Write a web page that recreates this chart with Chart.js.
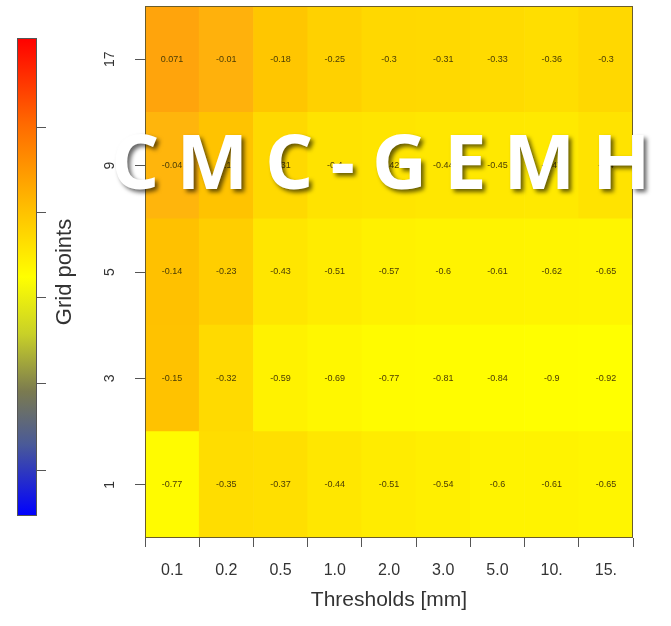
<!DOCTYPE html>
<html><head><meta charset="utf-8">
<script src="https://cdn.jsdelivr.net/npm/chart.js@4"></script>
<style>
html,body{margin:0;padding:0;background:#fff;overflow:hidden;}
#wrap{position:relative;width:671px;height:626px;overflow:hidden;}
#wm{position:absolute;left:111px;top:122px;font:bold 76px "Open Sans";line-height:76px;letter-spacing:17px;color:#fff;white-space:nowrap;text-shadow:3px 3px 4px rgba(0,0,0,0.6);pointer-events:none;}
</style></head><body>
<div id="wrap"><canvas id="c" width="671" height="626"></canvas><div id="wm">CMC-GEMH</div></div>
<script>
const thresholds = ['0.1','0.2','0.5','1.0','2.0','3.0','5.0','10.','15.'];
const gridPoints = ['1','3','5','9','17'];
const row1  = [-0.77,-0.35,-0.37,-0.44,-0.51,-0.54,-0.6,-0.61,-0.65];
const row3  = [-0.15,-0.32,-0.59,-0.69,-0.77,-0.81,-0.84,-0.9,-0.92];
const row5  = [-0.14,-0.23,-0.43,-0.51,-0.57,-0.6,-0.61,-0.62,-0.65];
const row9  = [-0.04,-0.16,-0.31,-0.4,-0.42,-0.44,-0.45,-0.47,-0.4];
const row17 = [0.071,-0.01,-0.18,-0.25,-0.3,-0.31,-0.33,-0.36,-0.3];
const rows = [row1,row3,row5,row9,row17];

// colour map (value -> green channel, red full)
const cmapV = [0.08, -0.01, -0.15, -0.3, -0.45, -0.6, -0.75, -0.92];
const cmapG = [163, 177, 194, 216, 232, 243, 250, 255];
function colorFor(v){
  let g;
  if (v >= cmapV[0]) g = cmapG[0];
  else if (v <= cmapV[cmapV.length-1]) g = cmapG[cmapG.length-1];
  else {
    for (let i=0;i<cmapV.length-1;i++){
      if (v <= cmapV[i] && v >= cmapV[i+1]){
        const t = (cmapV[i]-v)/(cmapV[i]-cmapV[i+1]);
        g = cmapG[i] + t*(cmapG[i+1]-cmapG[i]);
        break;
      }
    }
  }
  const b = v > -0.05 ? 12 : 0;
  return 'rgb(255,' + Math.round(g) + ',' + b + ')';
}

const labelPlugin = {
  id: 'cellLabels',
  afterDatasetsDraw(chart){
    const ctx = chart.ctx;
    ctx.save();
    ctx.font = '9px "Liberation Sans", Arial, sans-serif';
    ctx.fillStyle = '#4a3c05';
    ctx.textAlign = 'center';
    ctx.textBaseline = 'middle';
    chart.data.datasets.forEach((ds, di) => {
      const meta = chart.getDatasetMeta(di);
      meta.data.forEach((el, i) => {
        ctx.fillText(String(ds.values[i]), el.x, (el.y + el.base)/2);
      });
    });
    const a = chart.chartArea;
    ctx.strokeStyle = '#6b5d2a';
    ctx.lineWidth = 1;
    ctx.strokeRect(Math.round(a.left)+0.5, Math.round(a.top)+0.5, Math.round(a.right-a.left)-1, Math.round(a.bottom-a.top)-1);
    ctx.restore();
  }
};

const colorbarPlugin = {
  id: 'colorbar',
  afterDraw(chart){
    const ctx = chart.ctx;
    const x0 = 17, x1 = 37, y0 = 38, y1 = 516;
    ctx.save();
    const g = ctx.createLinearGradient(0, y0, 0, y1);
    g.addColorStop(0, '#ff0000');
    g.addColorStop(0.18, '#ff6a00');
    g.addColorStop(0.36, '#ffc000');
    g.addColorStop(0.5, '#ffff00');
    g.addColorStop(0.62, '#c8d028');
    g.addColorStop(0.74, '#7a7a50');
    g.addColorStop(0.85, '#4a5a98');
    g.addColorStop(1, '#0000ff');
    ctx.fillStyle = g;
    ctx.fillRect(x0, y0, x1-x0, y1-y0);
    ctx.strokeStyle = '#555';
    ctx.lineWidth = 1;
    ctx.strokeRect(x0+0.5, y0+0.5, x1-x0-1, y1-y0-1);
    ctx.beginPath();
    [127, 212, 297, 383, 470].forEach(y => { ctx.moveTo(x1, y+0.5); ctx.lineTo(x1+9, y+0.5); });
    ctx.stroke();
    ctx.restore();
  }
};

new Chart(document.getElementById('c'), {
  type: 'bar',
  data: {
    labels: thresholds,
    datasets: rows.map((r, i) => ({
      label: gridPoints[i],
      data: r.map(() => 1),
      values: r,
      backgroundColor: r.map(colorFor),
      borderWidth: 0,
      barPercentage: 1,
      categoryPercentage: 1,
      stack: 's'
    }))
  },
  options: {
    responsive: false,
    animation: false,
    devicePixelRatio: 1,
    layout: { padding: { top: 6, right: 38, left: 0, bottom: 0 } },
    plugins: { legend: { display: false }, tooltip: { enabled: false } },
    scales: {
      x: {
        type: 'category',
        stacked: true,
        offset: true,
        grid: { display: true, drawOnChartArea: false, drawTicks: true, tickLength: 9, color: '#555' },
        border: { display: false },
        ticks: { font: { size: 16, family: '"Liberation Sans", Arial, sans-serif' }, color: '#333', padding: 14, maxRotation: 0 },
        title: { display: true, text: 'Thresholds [mm]', font: { size: 21, family: '"Liberation Sans", Arial, sans-serif' }, color: '#333', padding: { top: 0, bottom: 13 } },
        afterFit(s){ s.height = 88; s.paddingLeft = 0; s.paddingRight = 0; }
      },
      y: {
        type: 'linear',
        stacked: true,
        min: 0, max: 5,
        afterBuildTicks(s){ s.ticks = gridPoints.map((g, i) => ({ value: i + 0.5 })); },
        grid: { display: true, drawOnChartArea: false, drawTicks: true, tickLength: 10, color: '#555' },
        border: { display: false },
        ticks: { font: { size: 14, family: '"Liberation Sans", Arial, sans-serif' }, color: '#333', minRotation: 90, maxRotation: 90, crossAlign: 'center', padding: 17,
          callback: (v, i) => gridPoints[i] },
        title: { display: true, text: 'Grid points', font: { size: 22, family: '"Liberation Sans", Arial, sans-serif' }, color: '#333', padding: { top: 52, bottom: 0 } },
        afterFit(s){ s.width = 145; s.paddingTop = 0; s.paddingBottom = 0; }
      }
    }
  },
  plugins: [labelPlugin, colorbarPlugin]
});
</script>
</body></html>
